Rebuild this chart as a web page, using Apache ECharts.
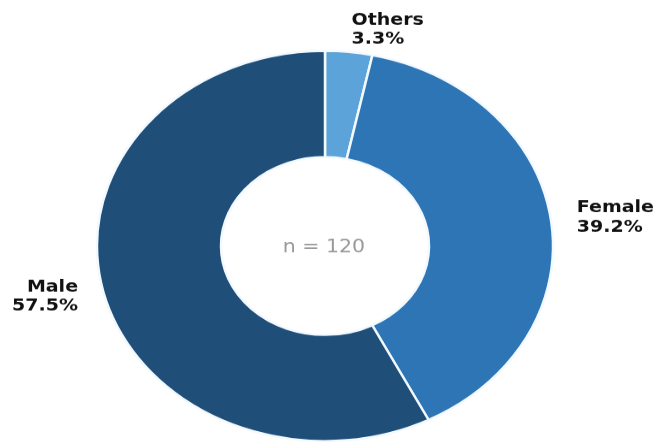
<!DOCTYPE html>
<html>
<head>
<meta charset="utf-8">
<script src="https://cdn.jsdelivr.net/npm/echarts@6/dist/echarts.min.js"></script>
<style>
  html, body { margin: 0; padding: 0; background: #fff; overflow: hidden; }
  #wrap { width: 660px; height: 443px; overflow: hidden; position: relative; }
  /* the donut is drawn as a circle, then flattened into an ellipse */
  #chart { width: 660px; height: 518px; transform-origin: 0 0; transform: scaleY(0.8553); }
</style>
</head>
<body>
<div id="wrap"><div id="chart"></div></div>
<script>
// respondents by gender
const categories = ['Others', 'Female', 'Male'];
const counts = [4, 47, 69];
const colors = ['#5ba3d8', '#2e75b6', '#1f4e79'];
const total = counts.reduce((a, b) => a + b, 0);

const flatten = 0.8553;
const cx = 325;
const cy = 246 / flatten;
const outerR = 228;
const innerR = 104;

const chart = echarts.init(document.getElementById('chart'), null, { renderer: 'canvas' });
chart.setOption({
  animation: false,
  backgroundColor: '#ffffff',
  graphic: [{
    type: 'text',
    x: cx - 1,
    y: 248 / flatten,
    style: {
      text: 'n = ' + total,
      fill: '#9a9a9a',
      font: 'normal 20.5px "DejaVu Sans"',
      textAlign: 'center',
      textVerticalAlign: 'middle'
    }
  }],
  series: [{
    type: 'pie',
    center: [cx, cy],
    radius: [innerR, outerR],
    startAngle: 90,
    clockwise: true,
    avoidLabelOverlap: false,
    percentPrecision: 1,
    emphasis: { disabled: true },
    itemStyle: { borderColor: '#f2f9ff', borderWidth: 2.5 },
    label: {
      show: true,
      position: 'outside',
      alignTo: 'none',
      distanceToLabelLine: 0,
      formatter: '{b}\n{d}%',
      fontFamily: 'DejaVu Sans',
      fontWeight: 'bold',
      fontSize: 19,
      lineHeight: 22.5,
      color: '#111111'
    },
    labelLine: { show: false, length: 26, length2: 0 },
    data: categories.map((name, i) => ({
      name: name,
      value: counts[i],
      itemStyle: { color: colors[i] }
    }))
  }]
});
</script>
</body>
</html>
